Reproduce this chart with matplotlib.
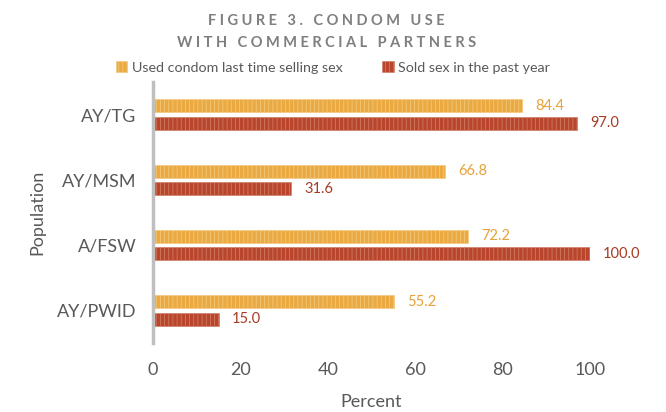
import matplotlib.pyplot as plt
import numpy as np
from matplotlib.patches import Patch

populations = ["AY/TG", "AY/MSM", "A/FSW", "AY/PWID"]
used_condom = [84.4, 66.8, 72.2, 55.2]
sold_sex = [97.0, 31.6, 100.0, 15.0]
x_ticks = [0, 20, 40, 60, 80, 100]

orange = "#EBA942"
orange_txt = "#E8A23A"
red = "#B8452C"
red_txt = "#A83A22"
gray = "#595959"

plt.rcParams["font.family"] = ["Lato", "DejaVu Sans"]
plt.rcParams["hatch.linewidth"] = 0.6

fig = plt.figure(figsize=(6.66, 4.12), dpi=100)
ax = fig.add_axes([0.2297, 0.1675, 0.656, 0.6335])

y = np.arange(len(populations))
h = 0.2
off = 0.135

ax.barh(y - off, used_condom, height=h, color=orange, edgecolor="#F3C77A",
        hatch="||||", linewidth=0.4)
ax.barh(y + off, sold_sex, height=h, color=red, edgecolor="#D07A62",
        hatch="||||", linewidth=0.4)

for yi, v in zip(y, used_condom):
    ax.text(v + 3, yi - off, f"{v:.1f}", color=orange_txt, fontsize=10.5,
            va="center", ha="left")
for yi, v in zip(y, sold_sex):
    ax.text(v + 3, yi + off, f"{v:.1f}", color=red_txt, fontsize=10.5,
            va="center", ha="left")

ax.set_xlim(0, 100)
ax.set_ylim(len(populations) - 0.5, -0.5)
ax.set_yticks(y)
ax.set_yticklabels(populations, fontsize=13, color=gray)
ax.set_xticks(x_ticks)
ax.set_xticklabels([str(t) for t in x_ticks], fontsize=13, color=gray)
ax.tick_params(axis="both", length=0)
ax.tick_params(axis="x", pad=14)
ax.tick_params(axis="y", pad=12)

for s in ["top", "right", "bottom"]:
    ax.spines[s].set_visible(False)
ax.spines["left"].set_color("#BFBFBF")
ax.spines["left"].set_linewidth(2.5)

ax.set_xlabel("Percent", fontsize=13, color=gray, labelpad=11)
ax.set_ylabel("Population", fontsize=13, color=gray, labelpad=8)

fig.text(0.49, 0.95, "F I G U R E   3 .   C O N D O M   U S E", ha="center",
         va="center", fontsize=10.5, fontweight="bold", color="#7F7F7F")
fig.text(0.49, 0.895, "W I T H   C O M M E R C I A L   P A R T N E R S",
         ha="center", va="center", fontsize=10.5, fontweight="bold", color="#7F7F7F")

handles = [Patch(facecolor=orange, edgecolor="#F3C77A", hatch="||||", linewidth=0.4),
           Patch(facecolor=red, edgecolor="#D07A62", hatch="||||", linewidth=0.4)]
fig.legend(handles, ["Used condom last time selling sex", "Sold sex in the past year"],
           loc="center", bbox_to_anchor=(0.5, 0.836), ncol=2, frameon=False,
           fontsize=10.3, handlelength=0.8, handleheight=0.8, handletextpad=0.3,
           columnspacing=2.8, labelcolor=gray)

fig.savefig("out.png", dpi=100)
